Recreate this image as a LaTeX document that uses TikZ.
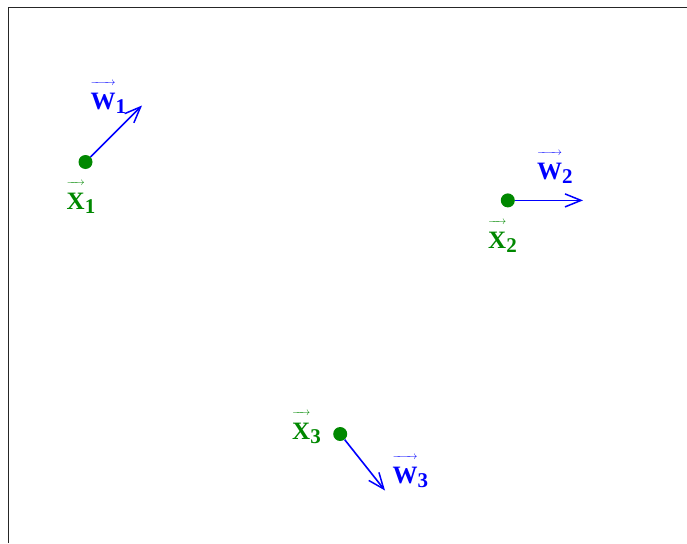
\documentclass[tikz,border=0pt]{standalone}
\usepackage{fontspec}
\setmainfont{Liberation Serif}
\usetikzlibrary{arrows.meta}
\definecolor{ptgreen}{RGB}{0,136,0}
\definecolor{ptblue}{RGB}{0,0,255}
\makeatletter
\newcommand{\vlab}[2]{%
  \setbox0=\hbox{\fontsize{25}{30}\selectfont\bfseries #1}%
  \vbox{\offinterlineskip\hbox to \wd0{\fontsize{11}{11}\selectfont\rightarrowfill}\kern7.5pt\box0}%
  \raisebox{-4pt}{\fontsize{21}{25}\selectfont\bfseries #2}}
\makeatother
\begin{document}
\begin{tikzpicture}[x=1pt,y=-1pt,
  dot/.style={circle,fill=ptgreen,draw=none,minimum size=14pt,inner sep=0pt},
  xlab/.style={anchor=base west,inner sep=0pt,text=ptgreen},
  wlab/.style={anchor=base west,inner sep=0pt,text=ptblue},
  warrow/.style={draw=ptblue,line width=1.6pt,-{Straight Barb[length=16pt,width=13pt,line width=1.5pt]}}]
\useasboundingbox (0,0) rectangle (687,543);
\coordinate (fa) at (8,543);
\coordinate (fb) at (8,8);
\coordinate (fc) at (687,8);
\draw[line width=1pt,black!85] (fa) -- (fb) -- (fc);
% points
\node[dot] (x1) at (85.5,162) {};
\node[dot] (x2) at (507.8,200.4) {};
\node[dot] (x3) at (340.2,434) {};
% tips
\coordinate (t1) at (142,105.5);
\coordinate (t2) at (583,200.4);
\coordinate (t3) at (385,490.5);
\draw[warrow] (x1) -- (t1);
\draw[warrow] (x2) -- (t2);
\draw[warrow] (x3) -- (t3);
% labels
\node[wlab] (lw1) at (90.5,109) {\vlab{W}{1}};
\node[xlab] (lx1) at (66.5,209.5) {\vlab{X}{1}};
\node[wlab] (lw2) at (537,179.3) {\vlab{W}{2}};
\node[xlab] (lx2) at (488,248.3) {\vlab{X}{2}};
\node[xlab] (lx3) at (292,439.3) {\vlab{X}{3}};
\node[wlab] (lw3) at (392.5,483.3) {\vlab{W}{3}};
\end{tikzpicture}
\end{document}
